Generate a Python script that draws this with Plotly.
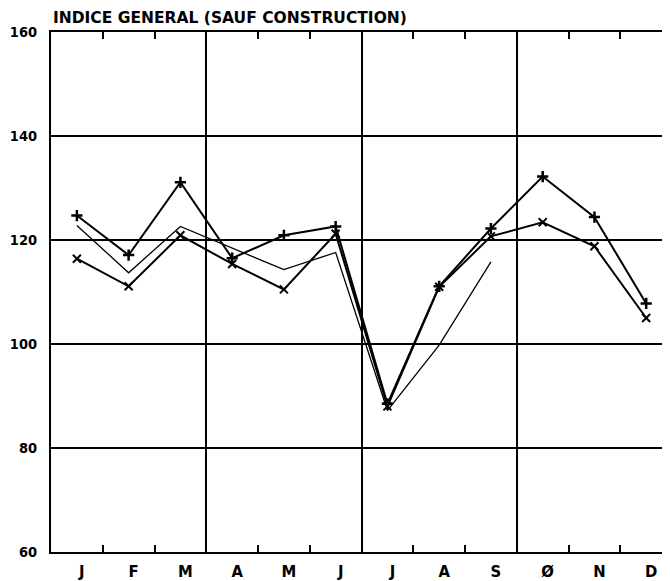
import plotly.graph_objects as go

months = ["J", "F", "M", "A", "M", "J", "J", "A", "S", "Ø", "N", "D"]
series_plus = [124.7, 117.1, 131.1, 116.5, 120.9, 122.6, 88.5, 111.1, 122.2, 132.2, 124.4, 107.8]
series_x = [116.4, 111.1, 120.9, 115.4, 110.5, 121.2, 88.0, 111.0, 120.7, 123.4, 118.8, 105.0]
series_plain = [122.8, 113.7, 122.6, 118.5, 114.3, 117.6, 87.2, 99.8, 115.8, None, None, None]
y_ticks = [60, 80, 100, 120, 140, 160]
title_text = "INDICE GENERAL (SAUF CONSTRUCTION)"

xpos = list(range(1, len(months) + 1))
FONT = "DejaVu Sans Condensed"
# the page body has an 8px margin, so the figure is shifted by 8px
W, H = 662, 573
L, T, B = 43, 24, 29
plot_h = H - T - B

fig = go.Figure()
fig.add_trace(go.Scatter(x=xpos, y=series_plain, mode="lines",
                         line=dict(color="black", width=1.3), showlegend=False))
fig.add_trace(go.Scatter(x=xpos, y=series_x, mode="lines+markers",
                         line=dict(color="black", width=2),
                         marker=dict(symbol="x-thin", size=8, line=dict(color="black", width=2)),
                         showlegend=False))
fig.add_trace(go.Scatter(x=xpos, y=series_plus, mode="lines+markers",
                         line=dict(color="black", width=2),
                         marker=dict(symbol="cross-thin", size=8, line=dict(color="black", width=2.5)),
                         showlegend=False))
# invisible trace to carry the month-label axis
fig.add_trace(go.Scatter(x=xpos, y=series_plus, mode="none", xaxis="x2",
                         showlegend=False, hoverinfo="skip"))

xr = [0.5, 12.46]
fig.update_layout(
    width=W, height=H,
    margin=dict(l=L, r=0, t=T, b=B, autoexpand=False),
    paper_bgcolor="white", plot_bgcolor="white",
    annotations=[dict(text=title_text, x=0.0, xref="paper", xanchor="left",
                      y=1 + (T - 10) / plot_h, yref="paper", yanchor="middle",
                      showarrow=False,
                      font=dict(family="DejaVu Sans", size=15.5, color="black", weight="bold"))],
    xaxis=dict(range=xr, tickmode="array", automargin=False,
               tickvals=[0.5, 3.5, 6.5, 9.5], ticktext=["", "", "", ""],
               showgrid=True, gridcolor="black", gridwidth=1.8,
               showline=True, linecolor="black", linewidth=2, mirror="ticks",
               ticks="inside", ticklen=7, tickwidth=2, tickcolor="black",
               zeroline=False,
               minor=dict(tick0=0.5, dtick=1, ticks="inside", ticklen=7,
                          tickwidth=2, tickcolor="black", showgrid=False)),
    xaxis2=dict(range=xr, overlaying="x", side="bottom", anchor="y", automargin=False,
                tickmode="array", tickvals=xpos, ticktext=months,
                showgrid=False, showline=False, ticks="", zeroline=False,
                ticklabelstandoff=7, ticklabelshift=5,
                tickfont=dict(family=FONT, size=16.5, color="black", weight="bold")),
    yaxis=dict(range=[60, 160], tickmode="array", tickvals=y_ticks, automargin=False,
               showgrid=True, gridcolor="black", gridwidth=1.8,
               showline=True, linecolor="black", linewidth=2, mirror=False,
               ticks="", zeroline=False, ticklabelstandoff=9,
               tickfont=dict(family=FONT, size=14.5, color="black", weight="bold")),
)

fig.write_html("out.html")
